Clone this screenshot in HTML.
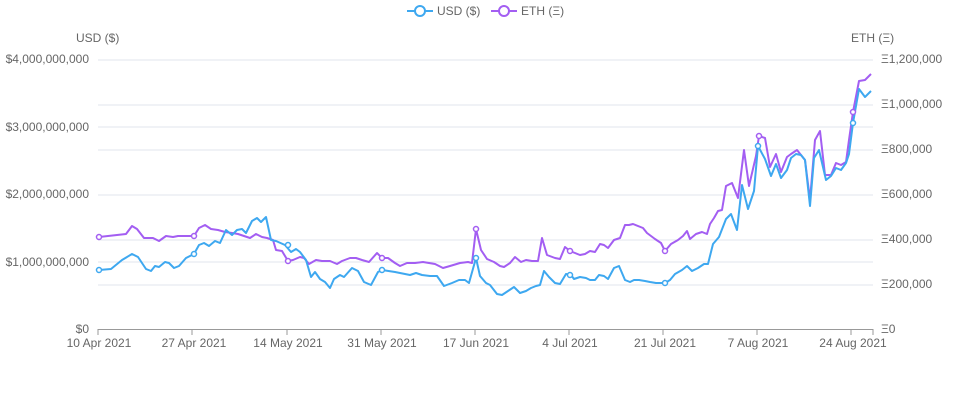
<!DOCTYPE html>
<html><head><style>body{margin:0;background:#fff}svg{display:block}text{font-family:"Liberation Sans",sans-serif;font-size:12px;fill:#666}</style></head><body>
<svg width="970" height="400" viewBox="0 0 970 400">
<g stroke="#e2e4ee" stroke-width="1">
<line x1="98" y1="60" x2="873" y2="60"/><line x1="98" y1="105" x2="873" y2="105"/><line x1="98" y1="127" x2="873" y2="127"/><line x1="98" y1="150" x2="873" y2="150"/><line x1="98" y1="195" x2="873" y2="195"/><line x1="98" y1="240" x2="873" y2="240"/><line x1="98" y1="262" x2="873" y2="262"/><line x1="98" y1="285" x2="873" y2="285"/>
</g>
<line x1="98" y1="329.5" x2="873" y2="329.5" stroke="#999"/>
<g stroke="#999"><line x1="98" y1="329" x2="98" y2="335"/><line x1="192" y1="329" x2="192" y2="335"/><line x1="287" y1="329" x2="287" y2="335"/><line x1="381" y1="329" x2="381" y2="335"/><line x1="475" y1="329" x2="475" y2="335"/><line x1="569" y1="329" x2="569" y2="335"/><line x1="663" y1="329" x2="663" y2="335"/><line x1="757" y1="329" x2="757" y2="335"/><line x1="851" y1="329" x2="851" y2="335"/><line x1="873" y1="329" x2="873" y2="335"/></g>
<g text-anchor="end"><text x="89" y="63">$4,000,000,000</text><text x="89" y="131">$3,000,000,000</text><text x="89" y="198">$2,000,000,000</text><text x="89" y="266">$1,000,000,000</text><text x="89" y="333">$0</text></g>
<text x="76" y="42">USD ($)</text><text x="851" y="42">ETH (Ξ)</text>
<g><text x="881" y="63">Ξ1,200,000</text><text x="881" y="108">Ξ1,000,000</text><text x="881" y="153">Ξ800,000</text><text x="881" y="198">Ξ600,000</text><text x="881" y="243">Ξ400,000</text><text x="881" y="288">Ξ200,000</text><text x="881" y="333">Ξ0</text></g>
<g text-anchor="middle"><text x="99" y="347">10 Apr 2021</text><text x="194" y="347">27 Apr 2021</text><text x="288" y="347">14 May 2021</text><text x="382" y="347">31 May 2021</text><text x="476" y="347">17 Jun 2021</text><text x="570" y="347">4 Jul 2021</text><text x="665" y="347">21 Jul 2021</text><text x="758" y="347">7 Aug 2021</text><text x="853" y="347">24 Aug 2021</text></g>
<polyline fill="none" stroke="#a35ef2" stroke-width="2" stroke-linejoin="round" points="99,237 126,234 132,226 137,229 144,238 153,238 159,241 166,236 173,237 178,236 194,236 199,228 205,225 211,229 218,230 225,232 232,233 238,234 244,236 250,238 256,234 262,237 267,238 273,240 276,250 282,251 288,261 293,260 300,257 304,258 309,264 316,260 322,261 330,261 337,264 342,261 350,258 356,258 362,260 369,262 377,253 382,258 388,258 395,263 400,266 407,263 415,263 423,262 429,263 435,264 443,268 450,266 460,263 468,262 472,263 476,229 481,250 487,259 494,262 500,266 504,267 510,263 515,257 521,262 526,260 532,261 538,261 542,238 547,255 555,258 560,259 565,247 570,251 575,253 580,255 585,254 590,251 595,252 600,244 604,245 608,248 614,240 620,238 625,225 629,225 633,224 643,228 647,233 655,239 661,243 665,251 671,244 678,240 683,236 687,231 690,239 696,234 702,232 707,234 710,224 714,218 718,211 722,210 726,186 732,183 738,198 744,150 749,186 756,156 759,136 765,138 770,167 776,154 781,172 787,157 791,154 797,150 801,155 805,160 810,200 815,140 820,131 825,175 831,175 836,163 841,165 846,162 849,140 853,112 859,81 865,80 871,74"/>
<polyline fill="none" stroke="#3ea8f0" stroke-width="2" stroke-linejoin="round" points="99,270 111,269 122,260 132,254 138,257 146,269 151,271 155,266 159,267 165,262 169,263 174,268 179,266 186,258 194,254 199,245 204,243 209,246 215,241 220,243 226,230 232,235 237,230 242,229 246,233 252,221 257,218 261,222 266,217 271,240 276,241 285,245 291,252 296,249 300,252 306,260 311,277 315,272 320,279 325,282 330,288 334,279 340,275 344,277 352,268 358,271 364,282 371,285 378,272 382,270 395,272 410,275 416,273 422,275 430,276 437,276 444,286 452,283 459,280 465,280 469,283 476,258 480,276 486,283 490,285 497,294 502,295 508,291 514,287 520,293 526,291 531,288 536,286 540,285 544,271 549,277 555,283 560,284 566,274 571,275 574,279 580,277 586,278 590,280 595,280 599,275 604,276 608,279 614,268 619,266 625,280 630,282 634,280 639,280 645,281 650,282 656,283 665,283 670,280 675,274 682,270 687,266 692,271 698,268 704,264 708,264 713,244 719,237 726,219 731,214 737,230 742,185 748,209 754,191 758,146 765,159 771,176 776,164 781,178 787,170 791,158 796,154 801,155 805,160 810,206 814,158 819,150 826,180 831,176 836,168 841,170 846,163 849,154 853,123 859,89 865,97 871,91"/>
<g fill="#fff" stroke="#a35ef2" stroke-width="1.5"><circle cx="99" cy="237" r="2.5"/><circle cx="194" cy="236" r="2.5"/><circle cx="288" cy="261" r="2.5"/><circle cx="382" cy="258" r="2.5"/><circle cx="476" cy="229" r="2.5"/><circle cx="570" cy="251" r="2.5"/><circle cx="665" cy="251" r="2.5"/><circle cx="759" cy="136" r="2.5"/><circle cx="853" cy="112" r="2.5"/></g>
<g fill="#fff" stroke="#3ea8f0" stroke-width="1.5"><circle cx="99" cy="270" r="2.5"/><circle cx="194" cy="254" r="2.5"/><circle cx="288" cy="245" r="2.5"/><circle cx="382" cy="270" r="2.5"/><circle cx="476" cy="258" r="2.5"/><circle cx="570" cy="275" r="2.5"/><circle cx="665" cy="283" r="2.5"/><circle cx="758" cy="146" r="2.5"/><circle cx="853" cy="123" r="2.5"/></g>
<line x1="407" y1="11" x2="433" y2="11" stroke="#3ea8f0" stroke-width="2"/><circle cx="420" cy="11" r="5" fill="#fff" stroke="#3ea8f0" stroke-width="2"/>
<text x="437" y="15">USD ($)</text>
<line x1="491" y1="11" x2="517" y2="11" stroke="#a35ef2" stroke-width="2"/><circle cx="504" cy="11" r="5" fill="#fff" stroke="#a35ef2" stroke-width="2"/>
<text x="521" y="15">ETH (Ξ)</text>
</svg>
</body></html>
